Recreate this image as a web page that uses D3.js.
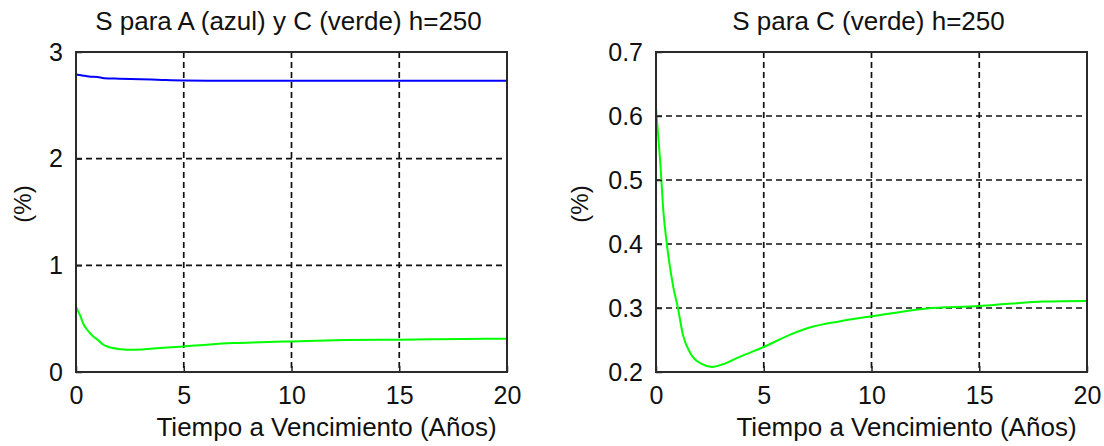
<!DOCTYPE html>
<html>
<head>
<meta charset="utf-8">
<script src="https://cdn.jsdelivr.net/npm/d3@7"></script>
<style>
  html, body { margin: 0; padding: 0; background: #fff; }
  svg { display: block; }
  text { font-family: "Liberation Sans", Arial, sans-serif; fill: #111; }
</style>
</head>
<body>
<svg id="chart" width="1104" height="446"></svg>
<script>
// Maturity grid (years) for series A (blue)
const maturityA = [0, 0.3, 0.6, 1, 1.3, 2, 3, 4, 5, 7, 10, 15, 20];
const seriesA = [2.79, 2.78, 2.77, 2.765, 2.755, 2.75, 2.745, 2.738, 2.733, 2.731, 2.73, 2.73, 2.73];

// Maturity grid (years) for series C (green)
const maturityC = [0, 0.1, 0.2, 0.35, 0.5, 0.8, 1.0, 1.25, 1.6, 2.1, 2.6, 3.1, 3.9, 5, 6.2, 7.3, 8.5, 10, 12.5, 15, 16.5, 18, 20];
const seriesC = [0.612, 0.57, 0.526, 0.448, 0.401, 0.333, 0.303, 0.258, 0.229, 0.213, 0.208, 0.212, 0.224, 0.239, 0.258, 0.271, 0.279, 0.287, 0.299, 0.303, 0.307, 0.310, 0.311];

const xTicks = [0, 5, 10, 15, 20];
const yTicksLeft = [0, 1, 2, 3];
const yTicksRight = [0.2, 0.3, 0.4, 0.5, 0.6, 0.7];

const titleLeft = "S para A (azul) y C (verde) h=250";
const titleRight = "S para C (verde) h=250";
const xLabel = "Tiempo a Vencimiento (Años)";
const yLabel = "(%)";

const svg = d3.select("#chart");

function panel(opts) {
  const { left, top, width, height, yDomain, yTicks, yFormat, series, title, yLabelX } = opts;
  const g = svg.append("g").attr("transform", `translate(${left},${top})`);
  const x = d3.scaleLinear().domain([0, 20]).range([0, width]);
  const y = d3.scaleLinear().domain(yDomain).range([height, 0]);

  // dashed grid
  g.append("g").selectAll("line")
    .data(xTicks.filter(t => t > 0 && t < 20)).join("line")
    .attr("x1", d => x(d)).attr("x2", d => x(d))
    .attr("y1", 0).attr("y2", height)
    .attr("stroke", "#111").attr("stroke-width", 1.7)
    .attr("stroke-dasharray", "6,4");
  g.append("g").selectAll("line")
    .data(yTicks.filter(t => t > yDomain[0] && t < yDomain[1])).join("line")
    .attr("x1", 0).attr("x2", width)
    .attr("y1", d => y(d)).attr("y2", d => y(d))
    .attr("stroke", "#111").attr("stroke-width", 1.7)
    .attr("stroke-dasharray", "6,4");

  // data lines
  const line = d3.line().x(d => x(d[0])).y(d => y(d[1])).curve(d3.curveMonotoneX);
  series.forEach(s => {
    g.append("path")
      .datum(s.xs.map((v, i) => [v, s.ys[i]]))
      .attr("fill", "none").attr("stroke", s.color)
      .attr("stroke-width", 2).attr("d", line);
  });

  // axes: labels outside, short ticks pointing inward
  const xAxis = d3.axisBottom(x).tickValues(xTicks).tickSize(-6).tickPadding(14).tickFormat(d3.format("d"));
  const yAxis = d3.axisLeft(y).tickValues(yTicks).tickSize(-6).tickPadding(13).tickFormat(yFormat);
  const xa = g.append("g").attr("transform", `translate(0,${height})`).call(xAxis);
  const ya = g.append("g").call(yAxis);
  [xa, ya].forEach(a => {
    a.select(".domain").remove();
    a.selectAll(".tick line").attr("stroke", "#222").attr("stroke-width", 1.5);
    a.selectAll("text").style("font-size", "25px").attr("fill", "#15153a");
  });
  xa.selectAll("text").attr("dy", "0.72em");

  // box
  g.append("rect").attr("x", 0).attr("y", 0).attr("width", width).attr("height", height)
    .attr("fill", "none").attr("stroke", "#2a2a2a").attr("stroke-width", 2);

  // title
  g.append("text").attr("x", width / 2 - 3).attr("y", -22)
    .attr("text-anchor", "middle").style("font-size", "26px").text(title);

  // x label
  g.append("text").attr("x", width / 2 + 35).attr("y", height + 64)
    .attr("text-anchor", "middle").style("font-size", "26px").text(xLabel);

  // y label
  g.append("text")
    .attr("transform", `translate(${yLabelX - left},${height / 2 - 8}) rotate(-90)`)
    .attr("text-anchor", "middle").attr("dy", "0.35em")
    .style("font-size", "24px").attr("fill", "#2a1a3a").text(yLabel);
}

panel({
  left: 76, top: 52, width: 431, height: 320,
  yDomain: [0, 3], yTicks: yTicksLeft, yFormat: d3.format("d"),
  title: titleLeft, yLabelX: 23,
  series: [
    { xs: maturityA, ys: seriesA, color: "#0000ff" },
    { xs: maturityC, ys: seriesC, color: "#00ff00" }
  ]
});

panel({
  left: 656, top: 52, width: 431, height: 320,
  yDomain: [0.2, 0.7], yTicks: yTicksRight, yFormat: d3.format(".1f"),
  title: titleRight, yLabelX: 580,
  series: [
    { xs: maturityC, ys: seriesC, color: "#00ff00" }
  ]
});
</script>
</body>
</html>
